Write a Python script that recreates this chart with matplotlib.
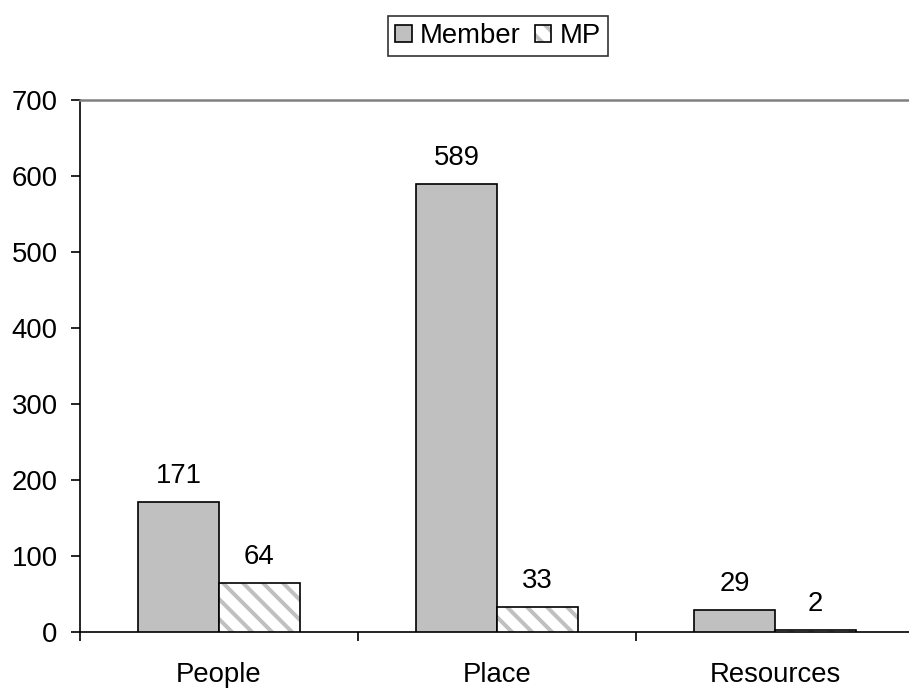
import matplotlib
matplotlib.use("Agg")
import matplotlib.pyplot as plt
import numpy as np
from matplotlib.patches import Patch
from matplotlib.legend_handler import HandlerTuple

categories = ["People", "Place", "Resources"]
member = [171, 589, 29]
mp = [64, 33, 2]
yticks = [0, 100, 200, 300, 400, 500, 600, 700]

plt.rcParams["font.family"] = ["Liberation Sans", "DejaVu Sans"]
plt.rcParams["hatch.linewidth"] = 2.4

FS = 16.5
DPI = 120
fig = plt.figure(figsize=(909 / DPI, 694 / DPI), dpi=DPI)
ax = fig.add_axes([80 / 909, 62 / 694, 834 / 909, 532 / 694])

x = np.arange(len(categories))
w = 0.29
fill_grey = "#c0c0c0"

ax.bar(x - w / 2, member, w, color=fill_grey, edgecolor="black", linewidth=1.0, zorder=3)
# hatched fill drawn first, then a black outline on top
ax.bar(x + w / 2, mp, w, color="white", edgecolor=fill_grey, hatch="\\\\", linewidth=0, zorder=3)
ax.bar(x + w / 2, mp, w, fill=False, edgecolor="black", linewidth=1.0, zorder=4)

for xi, v in zip(x - w / 2, member):
    ax.annotate(str(v), (xi, v), xytext=(0, 8), textcoords="offset points",
                ha="center", va="bottom", fontsize=FS)
for xi, v in zip(x + w / 2, mp):
    ax.annotate(str(v), (xi, v), xytext=(0, 8), textcoords="offset points",
                ha="center", va="bottom", fontsize=FS)

ax.set_xlim(-0.5, len(categories) - 0.5)
ax.set_ylim(0, 700)
ax.set_yticks(yticks)
ax.set_yticklabels([str(t) for t in yticks], fontsize=FS)
ax.set_xticks(x)
ax.set_xticklabels(categories, fontsize=FS)
ax.tick_params(axis="x", which="major", length=0, pad=18)
ax.set_xticks(np.arange(len(categories) + 1) - 0.5, minor=True)
ax.tick_params(axis="x", which="minor", length=5.5, width=1.0, direction="out", color="black")
ax.tick_params(axis="y", length=5.4, width=1.0, direction="out", pad=8)

ax.spines["right"].set_visible(False)
ax.spines["top"].set_color("#808080")
ax.spines["top"].set_linewidth(1.5)
for s in ("left", "bottom"):
    ax.spines[s].set_color("black")
    ax.spines[s].set_linewidth(1.0)

member_handle = Patch(facecolor=fill_grey, edgecolor="black", linewidth=1.0)
mp_fill = Patch(facecolor="white", edgecolor=fill_grey, hatch="\\\\", linewidth=0)
mp_edge = Patch(fill=False, edgecolor="black", linewidth=1.0)
leg = fig.legend(handles=[member_handle, (mp_fill, mp_edge)], labels=["Member", "MP"],
                 handler_map={tuple: HandlerTuple(ndivide=1, pad=0)},
                 loc="center", bbox_to_anchor=(498 / 909, 1 - 36 / 694),
                 ncol=2, fontsize=FS, frameon=True, fancybox=False, edgecolor="black",
                 handlelength=0.6, handleheight=0.6, handletextpad=0.3, columnspacing=0.5,
                 borderpad=0.25)
leg.get_frame().set_linewidth(1.0)

fig.savefig("out.png", dpi=DPI)
